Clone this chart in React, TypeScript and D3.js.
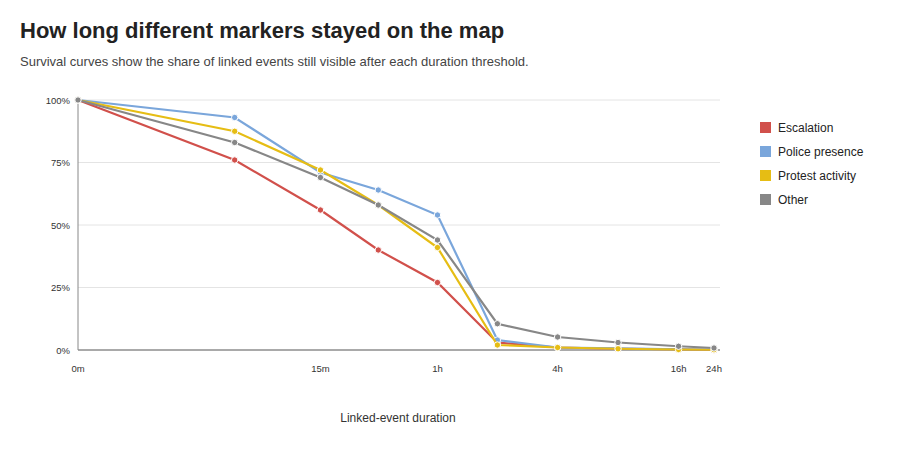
import * as d3 from "d3"

const thresholds = [0, 5, 15, 30, 60, 120, 240, 480, 960, 1440]
const tickValues = [0, 15, 60, 240, 960, 1440]
const tickLabels = ["0m", "15m", "1h", "4h", "16h", "24h"]
const yTicks = [0, 25, 50, 75, 100]

const seriesNames = ["Escalation", "Police presence", "Protest activity", "Other"]
const seriesColors = ["#d1504b", "#7aa6db", "#e6bd14", "#878787"]
const escalation = [100, 76, 56, 40, 27, 3, 1, 0.5, 0.3, 0]
const police = [100, 93, 71, 64, 54, 4, 1, 0.7, 0.3, 0.2]
const protest = [100, 87.5, 72, 58, 41, 2, 1, 0.5, 0.2, 0.1]
const other = [100, 83, 69, 58, 44, 10.5, 5.2, 3, 1.5, 0.8]
const seriesValues = [escalation, police, protest, other]

export default function App() {
  const x = d3.scaleSymlog().constant(1).domain([0, 1440]).range([78, 714])
  const y = d3.scaleLinear().domain([0, 100]).range([350, 100])
  const line = d3
    .line<number>()
    .x((_, i) => x(thresholds[i]))
    .y((d) => y(d))

  return (
    <svg width={904} height={444} style={{ fontFamily: "Helvetica, Arial, 'Liberation Sans', sans-serif", display: "block" }}>
      <text x={20} y={38} fontSize={22} fontWeight="bold" fill="#222" transform="translate(-8,-8)">
        How long different markers stayed on the map
      </text>
      <text x={20} y={66} fontSize={13} fill="#444" transform="translate(-8,-8)">
        Survival curves show the share of linked events still visible after each duration threshold.
      </text>
      <g transform="translate(-8,-8)">
        {yTicks.map((t) => (
          <g key={t}>
            <line x1={78} x2={720} y1={y(t)} y2={y(t)} stroke={t === 0 ? "#555" : "#e4e4e4"} strokeWidth={1} />
            <text x={70} y={y(t) + 3.5} fontSize={9.5} textAnchor="end" fill="#333">
              {t}%
            </text>
          </g>
        ))}
        <line x1={78} x2={78} y1={100} y2={350} stroke="#888" />
        {tickValues.map((t, i) => (
          <text key={t} x={x(t)} y={372} fontSize={9.5} textAnchor="middle" fill="#333">
            {tickLabels[i]}
          </text>
        ))}
        {seriesValues.map((vals, s) => (
          <g key={s}>
            <path d={line(vals) || ""} fill="none" stroke={seriesColors[s]} strokeWidth={2.2} />
            {vals.map((v, i) => (
              <circle key={i} cx={x(thresholds[i])} cy={y(v)} r={3.2} fill={seriesColors[s]} stroke="#fff" strokeWidth={1} />
            ))}
          </g>
        ))}
        <text x={398} y={422} fontSize={12} textAnchor="middle" fill="#333">
          Linked-event duration
        </text>
        {seriesNames.map((n, i) => (
          <g key={n} transform={`translate(760,${122 + i * 24})`}>
            <rect width={11} height={11} fill={seriesColors[i]} />
            <text x={18} y={10} fontSize={12} fill="#222">
              {n}
            </text>
          </g>
        ))}
      </g>
    </svg>
  )
}
